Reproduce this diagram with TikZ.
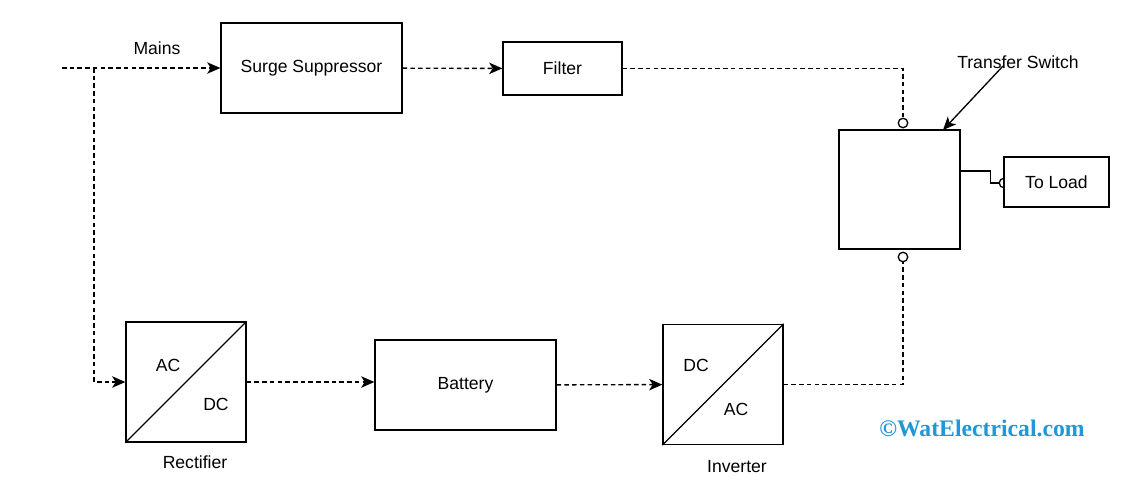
\documentclass[tikz,border=0pt]{standalone}
\usepackage{fontspec}
\setmainfont{Liberation Sans}
\newfontfamily\wmfont{Liberation Serif}
\usepackage{tikz}
\usetikzlibrary{arrows.meta}

\definecolor{wmblue}{RGB}{30,152,216}

\begin{document}
\begin{tikzpicture}[x=0.02cm,y=-0.02cm]
		\tikzset{block/.style={draw,fill=white,line width=0.75pt,inner sep=0pt,font=\fontsize{10}{12}\selectfont}}
		\tikzset{conv/.style={block,minimum width=2.4cm,minimum height=2.4cm}}
		\tikzset{lbl/.style={font=\fontsize{10}{12}\selectfont,inner sep=0pt}}
		\tikzset{flow/.style={line width=0.8pt,dash pattern=on 2.6pt off 1.8pt}}
		\tikzset{tip/.style={-{Stealth[length=7.5pt,width=6.5pt,inset=2pt]}}}
		\tikzset{port/.style={circle,draw,fill=white,line width=0.75pt,minimum size=0.19cm,inner sep=0pt}}
		\useasboundingbox (0,0) rectangle (1134,485);
		\node[block,minimum width=3.62cm,minimum height=1.8cm] (surge) at (311.5,68) {Surge Suppressor};
		\node[block,minimum width=2.38cm,minimum height=1.06cm] (filter) at (562.5,68.5) {Filter};
		\node[block,minimum width=2.42cm,minimum height=2.38cm] (ts) at (899.5,189.5) {};
		\node[port] (cload) at (1004,183) {};
		\node[block,minimum width=2.1cm,minimum height=1cm] (load) at (1056.5,182) {To Load};
		\node[conv] (rect) at (186,382) {};
		\node[block,minimum width=3.62cm,minimum height=1.8cm] (battery) at (465.5,385) {Battery};
		\node[conv] (inv) at (723,384.5) {};
		\node[port] (ctop) at (903,123) {};
		\node[port] (cbot) at (903,257) {};
		% converter diagonals and texts
		\draw[line width=0.75pt] (rect.south west) -- (rect.north east);
		\draw[line width=0.75pt] (inv.south west) -- (inv.north east);
		\node[lbl] (rectac) at (168,365) {AC};
		\node[lbl] (rectdc) at (216,404) {DC};
		\node[lbl] (invdc) at (696,365) {DC};
		\node[lbl] (invac) at (736,409) {AC};
		\node[lbl] (rectname) at (195,462) {Rectifier};
		\node[lbl] (invname) at (737,467) {Inverter};
		\node[lbl] (mainsname) at (157,48) {Mains};
		\node[lbl] (tsname) at (1018,62) {Transfer Switch};
		% connectors
		\coordinate (mains) at (62,68);
		\coordinate (split) at (94,68);
		\coordinate (tsin) at (1003,66);
		\coordinate (tshit) at (943,130);
		\draw[flow,tip] (mains) -- (surge);
		\draw[flow,tip] (split) |- (rect.west);
		\draw[flow,tip] (surge) -- (filter);
		\draw[flow] (filter.east) -| (ctop.north);
		\draw[flow,tip] (rect.east) -- (rect.east -| battery.west);
		\draw[flow,tip] (battery) -- (inv);
		\draw[flow] (inv.east) -| (cbot.south);
		\draw[line width=0.75pt] ([yshift=0.37cm]ts.east) -- ++(30,0) |- (cload.west);
		\draw[line width=0.75pt,tip] (tsin) -- (tshit);
		\node[font=\wmfont\bfseries\fontsize{13.5}{15}\selectfont,text=wmblue,inner sep=0pt] (mark) at (982,428) {©WatElectrical.com};
	\end{tikzpicture}
\end{document}
